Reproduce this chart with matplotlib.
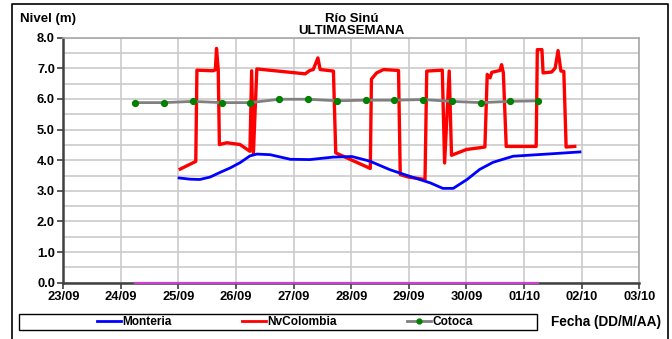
import matplotlib.pyplot as plt
from matplotlib.lines import Line2D
from matplotlib.patches import Rectangle
from matplotlib.ticker import MultipleLocator

plt.rcParams['font.family'] = ['Liberation Sans', 'DejaVu Sans']
plt.rcParams['font.weight'] = 'bold'

# time axis in days counted from 23/09 00:00
day_labels = ['23/09', '24/09', '25/09', '26/09', '27/09', '28/09',
              '29/09', '30/09', '01/10', '02/10', '03/10']

# Monteria
mont_t = [2.01, 2.20, 2.37, 2.55, 2.72, 2.90, 3.07, 3.24, 3.36, 3.59, 3.94,
          4.28, 4.68, 5.01, 5.32, 5.67, 6.02, 6.37, 6.59, 6.77, 7.01, 7.23,
          7.46, 7.81, 8.40, 8.97]
mont_h = [3.42, 3.38, 3.37, 3.45, 3.60, 3.75, 3.92, 4.14, 4.20, 4.18, 4.03,
          4.02, 4.10, 4.12, 3.97, 3.69, 3.47, 3.26, 3.08, 3.08, 3.37, 3.70,
          3.93, 4.13, 4.20, 4.27]

# NvColombia
nvc_t = [2.03, 2.30, 2.32, 2.60, 2.64, 2.66, 2.69, 2.71, 2.84, 3.07, 3.24,
         3.27, 3.30, 3.36, 4.20, 4.28, 4.34, 4.42, 4.46, 4.69, 4.73, 5.33,
         5.35, 5.44, 5.56, 5.82, 5.85, 5.99, 6.28, 6.31, 6.58, 6.62, 6.70,
         6.74, 7.00, 7.32, 7.36, 7.41, 7.44, 7.58, 7.61, 7.64, 7.69, 8.21,
         8.23, 8.31, 8.33, 8.48, 8.54, 8.59, 8.64, 8.69, 8.73, 8.88]
nvc_h = [3.71, 3.96, 6.94, 6.92, 6.95, 7.65, 6.95, 4.51, 4.57, 4.51, 4.29,
         6.92, 4.20, 6.98, 6.82, 6.93, 6.96, 7.34, 6.96, 6.91, 4.24, 3.73,
         6.65, 6.85, 6.96, 6.93, 3.53, 3.45, 3.37, 6.91, 6.94, 3.91, 6.91,
         4.16, 4.35, 4.43, 6.80, 6.69, 6.87, 6.93, 7.12, 6.85, 4.45, 4.45,
         7.61, 7.61, 6.85, 6.88, 7.01, 7.58, 6.91, 6.90, 4.43, 4.45]

# Cotoca, every 12 hours
cot_t = [1.25, 1.75, 2.25, 2.75, 3.25, 3.75, 4.25, 4.75, 5.25, 5.75,
         6.25, 6.75, 7.25, 7.75, 8.25]
cot_h = [5.88, 5.88, 5.92, 5.88, 5.88, 5.99, 5.99, 5.94, 5.96, 5.96,
         5.98, 5.92, 5.88, 5.92, 5.94]

# station without readings (zero level)
zero_t = [1.25, 8.25]
zero_h = [0.0, 0.0]

fig = plt.figure(figsize=(6.72, 3.39), dpi=100)
ax = fig.add_axes([0.0942, 0.1661, 0.8571, 0.7227])

ax.plot(mont_t, mont_h, color='#0000ff', lw=2, zorder=4)
ax.plot(nvc_t, nvc_h, color='#ff0000', lw=2.4, zorder=3)
ax.plot(cot_t, cot_h, color='#808080', lw=2, marker='o', ms=4.2,
        mfc='#008000', mec='#008000', zorder=5)
ax.plot(zero_t, zero_h, color='#d040d0', lw=1.6, zorder=6, clip_on=False)

ax.set_xlim(0, 10)
ax.set_ylim(0, 8)
ax.set_xticks(range(len(day_labels)))
ax.set_xticklabels(day_labels)
ax.yaxis.set_major_locator(MultipleLocator(1))
ax.yaxis.set_minor_locator(MultipleLocator(0.5))
ax.yaxis.set_major_formatter(lambda v, p: f'{v:.1f}')
ax.grid(True, which='both', color='#cbcbcb', lw=1.2)
ax.set_axisbelow(True)
ax.tick_params(which='major', direction='out', length=4, width=1.2,
               color='#404040', labelsize=9.3, pad=2)
ax.tick_params(axis='y', which='minor', length=0)
for lab in ax.get_xticklabels() + ax.get_yticklabels():
    lab.set_fontweight('bold')

for side in ['top', 'right']:
    ax.spines[side].set_color('#a8a8a8')
    ax.spines[side].set_linewidth(1.2)
for side in ['left', 'bottom']:
    ax.spines[side].set_color('#404040')
    ax.spines[side].set_linewidth(1.8)

ax.set_title('Río Sinú\nULTIMASEMANA', fontsize=9.5, fontweight='bold',
             linespacing=0.9, pad=3)
fig.text(0.030, 0.944, 'Nivel (m)', fontsize=9.5, fontweight='bold',
         va='center')
fig.text(0.984, 0.050, 'Fecha (DD/M/AA)', fontsize=9.8, fontweight='bold',
         va='center', ha='right')

# legend box
fig.add_artist(Rectangle((19 / 672, 9 / 339), 518 / 672, 16 / 339,
                         transform=fig.transFigure, fill=False,
                         edgecolor='black', lw=1.0))
handles = [Line2D([], [], color='#0000ff', lw=2),
           Line2D([], [], color='#ff0000', lw=2),
           Line2D([], [], color='#808080', lw=2, marker='o', ms=3.5,
                  mfc='#008000', mec='#008000')]
fig.legend(handles, ['Monteria', 'NvColombia', 'Cotoca'], ncol=3,
           loc='center', bbox_to_anchor=(285 / 672, 17 / 339),
           handlelength=2.0, handletextpad=0.1, columnspacing=5.9,
           borderpad=0, frameon=False, prop={'weight': 'bold', 'size': 8.6})

# outer chart border (open at the bottom)
fig.add_artist(Line2D([12 / 672, 12 / 672, 668 / 672, 668 / 672],
                      [0, 1 - 4 / 339, 1 - 4 / 339, 0],
                      color='black', lw=1.2, transform=fig.transFigure))

fig.savefig('out.png', dpi=100)
